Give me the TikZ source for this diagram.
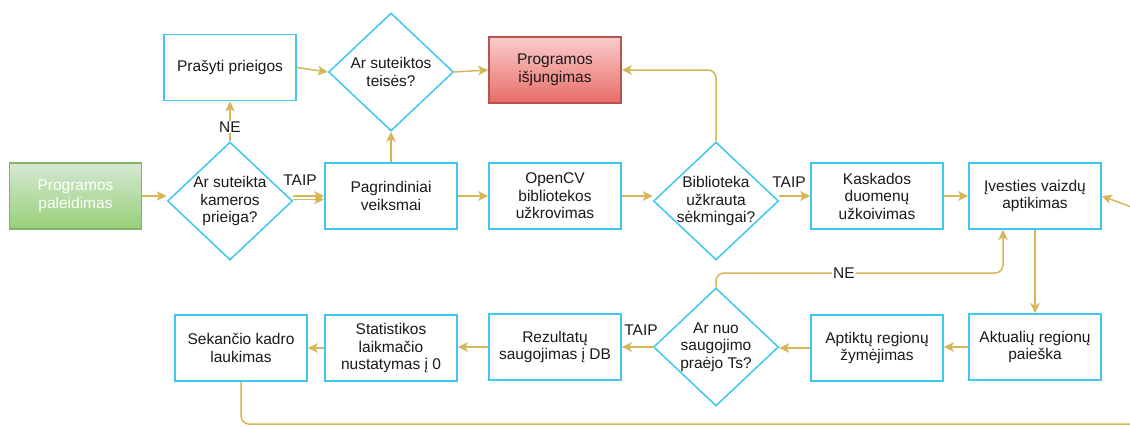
\documentclass[tikz,border=0pt]{standalone}
\usepackage{fontspec}
\setmainfont{Liberation Sans}
\usetikzlibrary{arrows.meta,shapes.geometric}
\definecolor{boxc}{HTML}{3CC8F0}
\definecolor{gold}{HTML}{D6B656}
\definecolor{txt}{HTML}{1A1A1A}
\definecolor{gtop}{HTML}{D5E8D4}
\definecolor{gbot}{HTML}{97D077}
\definecolor{gline}{HTML}{82B366}
\definecolor{rtop}{HTML}{F8CECC}
\definecolor{rbot}{HTML}{EA6B66}
\definecolor{rline}{HTML}{B85450}
\newcommand\flowfont{\fontsize{15.5}{17.5}\selectfont}
\tikzset{
  box/.style={draw=boxc, line width=1.6pt, fill=white, minimum width=132pt,
    minimum height=66pt, align=center, inner sep=2pt, font=\flowfont, text=txt},
  dia/.style={draw=boxc, line width=1.5pt, fill=white, shape=diamond,
    minimum width=125pt, minimum height=118pt, inner sep=0pt},
  dtext/.style={align=center, font=\flowfont, text=txt},
  flow/.style={draw=gold, line width=1.5pt, rounded corners=8pt,
    -{Stealth[length=10pt,width=9.5pt,inset=2.5pt]}},
  lbl/.style={font=\flowfont, text=txt, fill=white, inner sep=1pt},
}
\begin{document}
\begin{tikzpicture}[x=1pt,y=-1pt]
\useasboundingbox (0,0) rectangle (1130,426);
\clip (0,0) rectangle (1130,426);

% top part: start, permissions, library loading
\node[box, draw=gline, top color=gtop, bottom color=gbot, text=white] (start) at (75.5,196) {Programos\\paleidimas};
\node[dia] (d1) at (230,201) {};
\node[dtext] (d1t) at (230,201) {Ar suteikta\\kameros\\prieiga?};
\node[box] (ask) at (230,67.5) {Prašyti prieigos};
\node[dia] (d2) at (391,72) {};
\node[dtext] (d2t) at (391,72) {Ar suteiktos\\teisės?};
\node[box, draw=rline, top color=rtop, bottom color=rbot] (stop) at (555,70) {Programos\\išjungimas};
\node[box] (main) at (391,196) {Pagrindiniai\\veiksmai};
\node[box] (ocv) at (555,196) {OpenCV\\bibliotekos\\užkrovimas};
\node[dia] (d3) at (716,201) {};
\node[dtext] (d3t) at (716,201) {Biblioteka\\užkrauta\\sėkmingai?};
\node[box] (kask) at (877,196) {Kaskados\\duomenų\\užkoivimas};
\node[box] (ivest) at (1035,196) {Įvesties vaizdų\\aptikimas};

% bottom row: processing loop
\node[box] (akt) at (1035,347) {Aktualių regionų\\paieška};
\node[box] (apt) at (877,348) {Aptiktų regionų\\žymėjimas};
\node[dia] (d4) at (716,347) {};
\node[dtext] (d4t) at (716,347) {Ar nuo\\saugojimo\\praėjo Ts?};
\node[box] (rez) at (555,347) {Rezultatų\\saugojimas į DB};
\node[box] (stat) at (391,348) {Statistikos\\laikmačio\\nustatymas į 0};
\node[box] (sek) at (241,348) {Sekančio kadro\\laukimas};

% connectors
\draw[flow] (start.east) -- (start.east -| d1.west);
\draw[flow] (d1.east |- 0,196) -- (main.west |- 0,196);
\draw[flow] (d1.east |- 0,199.5) -- (main.west |- 0,199.5);
\node[lbl, fill=none] (taip1) at (300,180) {TAIP};
\draw[flow] (d1.north) -- (ask.south);
\node[lbl] (ne1) at (230,127) {NE};
\draw[flow] (ask.east) -- (d2.west);
\draw[flow] (d2.east) -- (stop.west);
\draw[flow] (main.north) -- (d2.south);
\draw[flow] (main.east) -- (main.east -| ocv.west);
\draw[flow] (ocv.east) -- (ocv.east -| d3.west);
\draw[flow] (d3.north) |- (stop.east);
\draw[flow] (d3.east |- kask.west) -- (kask.west);
\node[lbl, fill=none] (taip2) at (789,182) {TAIP};
\draw[flow] (kask.east) -- (ivest.west);
\draw[flow] (ivest.south) -- (akt.north);
\draw[flow] (akt.west) -- (akt.west -| apt.east);
\draw[flow] (apt.west) -- (apt.west -| d4.east);
\draw[flow] (d4.west) -- (d4.west -| rez.east);
\node[lbl, fill=none] (taip3) at (641,330) {TAIP};
\draw[flow] (rez.west) -- (rez.west -| stat.east);
\draw[flow] (stat.west) -- (stat.west -| sek.east);
\coordinate (nec) at (1003,273);
\draw[flow] (d4.north) |- (nec) -- (nec |- ivest.south);
\node[lbl] (ne2) at (844,273) {NE};
\coordinate (rb) at (1150,424);
\coordinate (rr) at (1150,214);
\draw[flow] (sek.south) |- (rb) -- (rr) -- (ivest.east);
\end{tikzpicture}
\end{document}
